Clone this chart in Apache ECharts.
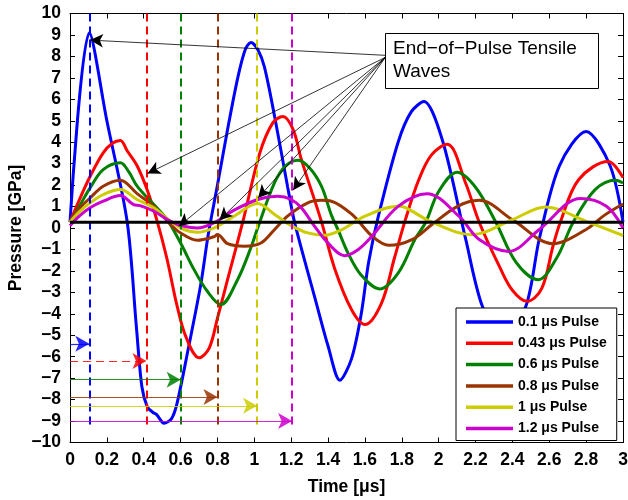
<!DOCTYPE html>
<html lang="en">
<head>
<meta charset="UTF-8">
<title>End-of-Pulse Tensile Waves</title>
<script src="https://cdn.jsdelivr.net/npm/echarts@6/dist/echarts.min.js"></script>
<style>html,body{margin:0;padding:0;background:#fff}</style>
</head>
<body>
<div id="main" style="width:628px;height:500px"></div>
<script>
    // pulse names and colours (legend order)
    let names = ['0.1 μs Pulse', '0.43 μs Pulse', '0.6 μs Pulse', '0.8 μs Pulse', '1 μs Pulse', '1.2 μs Pulse'];
    let colors = ['#0000ff', '#ff0000', '#008000', '#993300', '#cccc00', '#cc00cc'];

    // time [us] and pressure [GPa], one pair of arrays per pulse
    let tBlue = [0, 0.105, 0.2, 0.31, 0.36, 0.39, 0.42, 0.45, 0.47, 0.51, 0.55, 0.58, 0.64, 0.71, 0.75, 0.8, 0.855, 0.91, 0.95, 0.982, 1.02, 1.055, 1.11, 1.18, 1.22, 1.33, 1.40, 1.464, 1.527, 1.58, 1.62, 1.673, 1.78, 1.85, 1.92, 2.02, 2.146, 2.237, 2.35, 2.473, 2.546, 2.655, 2.80, 2.93, 3.0];
    let pBlue = [0.27, 9.1, 5.0, 0.3, -4.6, -7.4, -8.35, -8.6, -8.7, -9.1, -8.9, -8.2, -5.7, -2.6, -0.3, 2.0, 4.6, 7.0, 8.3, 8.65, 8.3, 7.5, 5.2, 1.95, 0.2, -3.3, -5.5, -7.1, -6.1, -4.0, -1.6, 0.55, 4.0, 5.4, 5.9, 4.1, -0.5, -3.65, -5.2, -3.65, -0.5, 2.9, 4.5, 2.9, 0.27];

    let tRed = [0, 0.05, 0.109, 0.18, 0.23, 0.273, 0.31, 0.364, 0.42, 0.47, 0.525, 0.58, 0.63, 0.70, 0.755, 0.80, 0.855, 0.937, 1.03, 1.1, 1.155, 1.21, 1.255, 1.364, 1.436, 1.527, 1.60, 1.69, 1.76, 1.82, 1.89, 1.96, 2.046, 2.146, 2.22, 2.33, 2.40, 2.48, 2.56, 2.62, 2.66, 2.76, 2.92, 3.0];
    let pRed = [0.27, 1.3, 2.4, 3.5, 3.95, 4.08, 3.6, 2.9, 1.75, 0.4, -1.4, -3.6, -5.1, -6.05, -5.6, -4.2, -2.4, 0.27, 3.5, 4.9, 5.2, 4.6, 3.2, 0.3, -1.9, -3.8, -4.5, -3.5, -1.4, 0.4, 2.2, 3.4, 3.9, 2.1, 0.27, -1.8, -2.9, -3.42, -2.8, -0.85, 0.27, 2.26, 3.1, 2.35];

    let tGreen = [0, 0.05, 0.109, 0.18, 0.273, 0.32, 0.364, 0.455, 0.527, 0.6, 0.673, 0.745, 0.818, 0.909, 0.982, 1.018, 1.109, 1.17, 1.237, 1.30, 1.364, 1.418, 1.455, 1.51, 1.58, 1.68, 1.78, 1.873, 1.93, 2.0, 2.10, 2.2, 2.31, 2.42, 2.54, 2.64, 2.73, 2.85, 2.96, 3.0];
    let pGreen = [0.27, 1.0, 1.87, 2.72, 3.04, 2.6, 1.95, 1.09, 0.39, -0.7, -1.94, -2.95, -3.57, -2.41, -0.9, 0.0, 2.1, 2.9, 3.16, 2.8, 1.95, 0.6, -0.1, -1.2, -2.2, -2.84, -2.1, -0.5, 0.27, 1.7, 2.6, 1.9, 0.27, -1.6, -2.41, -1.4, 0.27, 1.8, 2.23, 2.1];

    let tBrown = [0, 0.05, 0.109, 0.18, 0.273, 0.364, 0.455, 0.546, 0.6, 0.69, 0.78, 0.8, 0.855, 0.946, 1.036, 1.11, 1.18, 1.29, 1.364, 1.418, 1.53, 1.64, 1.73, 1.855, 1.964, 2.1, 2.22, 2.4, 2.62, 2.80, 2.9, 3.0];
    let pBrown = [0.27, 0.9, 1.4, 1.95, 2.23, 1.6, 1.01, 0.16, -0.23, -0.57, -0.41, -0.3, -0.73, -0.85, -0.70, -0.07, 0.55, 1.17, 1.29, 1.25, 0.63, -0.39, -0.81, -0.54, 0.16, 1.0, 1.29, 0.39, -0.73, -0.07, 0.6, 1.12];

    let tYellow = [0, 0.05, 0.109, 0.18, 0.273, 0.364, 0.455, 0.546, 0.618, 0.69, 0.78, 0.89, 1.018, 1.11, 1.2, 1.29, 1.38, 1.47, 1.6, 1.78, 1.82, 1.964, 2.18, 2.4, 2.58, 2.8, 3.0];
    let pYellow = [0.27, 0.75, 1.17, 1.56, 1.79, 1.33, 0.94, 0.31, -0.07, -0.2, 0.0, 0.55, 1.14, 0.63, 0.11, -0.23, -0.34, -0.1, 0.55, 1.01, 0.95, 0.27, -0.31, 0.39, 0.98, 0.31, -0.35];

    let tMag = [0, 0.05, 0.109, 0.18, 0.273, 0.345, 0.38, 0.455, 0.546, 0.618, 0.69, 0.78, 0.89, 1.018, 1.127, 1.2, 1.255, 1.327, 1.40, 1.49, 1.564, 1.637, 1.78, 1.937, 2.11, 2.22, 2.38, 2.546, 2.77, 2.91, 3.0];
    let pMag = [0.1, 0.55, 0.94, 1.25, 1.51, 1.09, 1.04, 0.78, 0.31, 0.08, 0.0, 0.24, 0.83, 1.33, 1.48, 1.33, 0.94, 0.08, -0.70, -1.29, -1.0, -0.39, 1.01, 1.6, 0.55, -0.54, -1.09, -0.07, 1.37, 1.01, 0.0];

    // end of each pulse (dashed lines) and the level of its duration arrow
    let pulseEnd = [0.105, 0.415, 0.6, 0.8, 1.015, 1.205];
    let arrowLevel = [-5.4, -6.2, -7.07, -7.88, -8.29, -9.0];
    // points the "End-of-Pulse Tensile Waves" arrows point at
    let tensileT = [0.109, 0.42, 0.59, 0.81, 1.02, 1.21];
    let tensileP = [8.76, 2.54, 0.08, 0.36, 1.4, 1.76];
    let baseline = 0.27;

    let font = 'Liberation Sans, Arial, Helvetica, sans-serif';
    let times = [tBlue, tRed, tGreen, tBrown, tYellow, tMag];
    let press = [pBlue, pRed, pGreen, pBrown, pYellow, pMag];

    function pts(t, p) {
        return t.map(function (x, i) { return [x, p[i]]; });
    }
    function minus(v) {
        return v < 0 ? '\u2212' + (-v) : '' + v;
    }

    let series = names.map(function (n, i) {
        return {
            name: n,
            type: 'line',
            data: pts(times[i], press[i]),
            smooth: i === 0 ? 0.3 : 0.35,
            symbol: 'none',
            lineStyle: {width: 3, color: colors[i]},
            itemStyle: {color: colors[i]},
            z: 2
        };
    });

    // thick black reference line
    series.push({
        type: 'line',
        data: [[0, baseline], [3, baseline]],
        symbol: 'none',
        lineStyle: {width: 3, color: '#000'},
        z: 5,
        silent: true
    });

    // dashed pulse-end lines, duration arrows and annotation arrows
    let marks = [];
    pulseEnd.forEach(function (x, i) {
        marks.push([
            {coord: [x, 10], symbol: 'none', lineStyle: {color: colors[i], width: 2, type: [8, 5]}},
            {coord: [x, -9.3], symbol: 'none'}
        ]);
        marks.push([
            {coord: [0, arrowLevel[i]], symbol: 'none', lineStyle: {color: colors[i], width: 1.2, type: i === 1 ? [8, 5] : 'solid', opacity: 0.85}},
            {coord: [x, arrowLevel[i]], symbol: 'arrow', symbolSize: [12, 14]}
        ]);
    });
    tensileT.forEach(function (x, i) {
        marks.push([
            {coord: [1.71, i === 0 ? 8.05 : 7.95], symbol: 'none', lineStyle: {color: '#000', width: 0.8, type: 'solid'}},
            {coord: [x, tensileP[i]], symbol: 'arrow', symbolSize: [10, 13]}
        ]);
    });
    series.push({
        type: 'line',
        data: [],
        z: 6,
        markLine: {
            silent: true,
            animation: false,
            label: {show: false},
            emphasis: {disabled: true},
            symbol: ['none', 'none'],
            data: marks
        }
    });

    let tickStyle = {inside: true, length: 5, lineStyle: {color: '#000', width: 1}};
    let lineStyleAx = {onZero: false, lineStyle: {color: '#000', width: 1}};
    let labelStyle = {color: '#000', fontFamily: font, fontWeight: 'bold', fontSize: 17.5};

    let myChart = echarts.init(document.getElementById('main'));
    let option = {
        animation: false,
        backgroundColor: '#fff',
        grid: {left: 70, right: 5, top: 13.5, bottom: 57.5, outerBoundsMode: 'none', containLabel: false},
        xAxis: [{
            type: 'value', min: 0, max: 3, interval: 0.2, position: 'bottom',
            axisLine: lineStyleAx, axisTick: tickStyle, splitLine: {show: false},
            axisLabel: Object.assign({margin: 9}, labelStyle),
            name: 'Time [μs]', nameLocation: 'middle', nameGap: 36, nameMoveOverlap: false,
            nameTextStyle: labelStyle
        }, {
            type: 'value', min: 0, max: 3, interval: 0.2, position: 'top',
            axisLine: lineStyleAx, axisTick: tickStyle, splitLine: {show: false},
            axisLabel: {show: false}
        }],
        yAxis: [{
            type: 'value', min: -10, max: 10, interval: 1, position: 'left',
            axisLine: lineStyleAx, axisTick: tickStyle, splitLine: {show: false},
            axisLabel: Object.assign({margin: 9, formatter: minus}, labelStyle),
            name: 'Pressure [GPa]', nameLocation: 'middle', nameGap: 45, nameMoveOverlap: false,
            nameTextStyle: labelStyle
        }, {
            type: 'value', min: -10, max: 10, interval: 1, position: 'right',
            axisLine: lineStyleAx, axisTick: tickStyle, splitLine: {show: false},
            axisLabel: {show: false}
        }],
        legend: {
            orient: 'vertical',
            left: 456, top: 308,
            data: names,
            icon: 'rect',
            selectedMode: false,
            backgroundColor: '#fff',
            borderColor: '#000', borderWidth: 1, borderRadius: 0,
            padding: [7, 10, 5, 10],
            itemWidth: 47, itemHeight: 3.5, itemGap: 7.3,
            textStyle: {color: '#000', fontFamily: font, fontWeight: 'bold', fontSize: 14},
            z: 10
        },
        graphic: [{
            type: 'rect', left: 385, top: 33, z: 20,
            shape: {width: 213, height: 55},
            style: {fill: '#fff', stroke: '#000', lineWidth: 1}
        }, {
            type: 'text', left: 393, top: 37, z: 21,
            style: {text: 'End\u2212of\u2212Pulse Tensile\nWaves', fill: '#000', font: '19px ' + font, lineHeight: 23}
        }],
        series: series
    };
    myChart.setOption(option);
</script>
</body>
</html>
